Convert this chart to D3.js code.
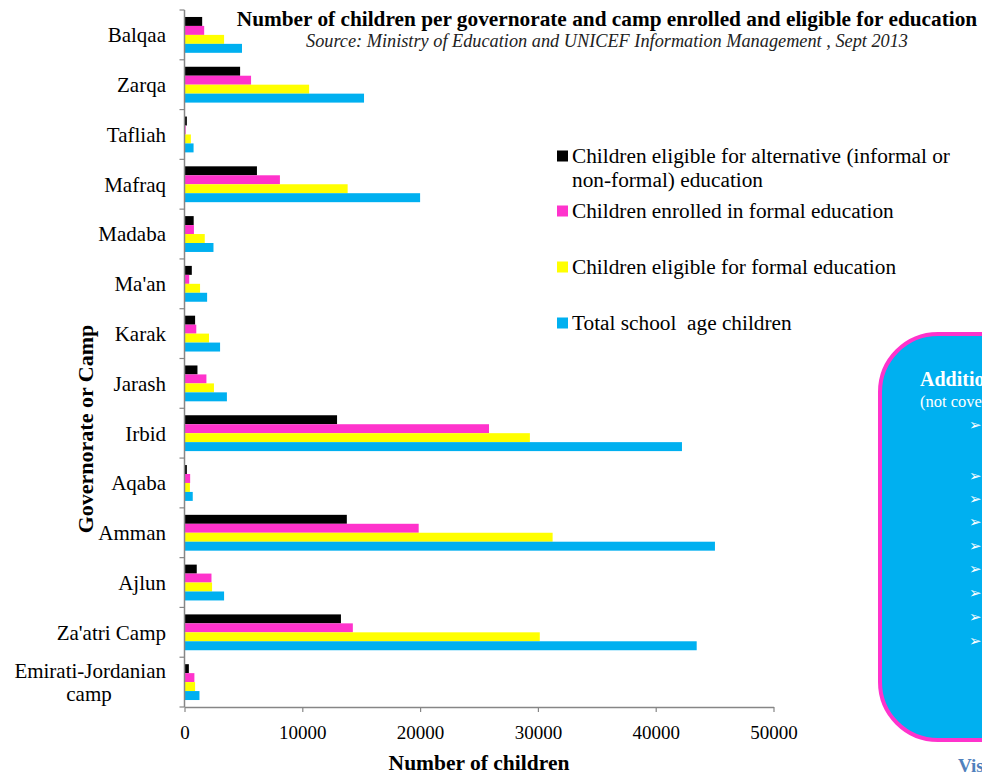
<!DOCTYPE html>
<html>
<head>
<meta charset="utf-8">
<script src="https://cdn.jsdelivr.net/npm/d3@7"></script>
<style>
  html, body { margin: 0; padding: 0; background: #fff; }
  svg { display: block; font-family: "Liberation Serif", "Times New Roman", serif; }
</style>
</head>
<body>
<svg id="chart" width="982" height="776"></svg>
<script>
// ---- data ----
const categories = ["Balqaa", "Zarqa", "Tafliah", "Mafraq", "Madaba", "Ma'an", "Karak", "Jarash",
  "Irbid", "Aqaba", "Amman", "Ajlun", "Za'atri Camp", "Emirati-Jordanian camp"];
const seriesNames = [
  "Children eligible for alternative (informal or non-formal) education",
  "Children enrolled in formal education",
  "Children eligible for formal education",
  "Total school  age children"
];
const alternativeEligible = [1500, 4720, 200, 6150, 780, 620, 900, 1100, 12950, 200, 13780, 1040, 13280, 370];
const formalEnrolled      = [1670, 5650, 100, 8100, 800, 400, 1000, 1860, 25850, 480, 19880, 2290, 14290, 840];
const formalEligible      = [3360, 10580, 540, 13850, 1720, 1320, 2080, 2500, 29320, 460, 31250, 2340, 30160, 900];
const totalSchoolAge      = [4880, 15240, 770, 20000, 2460, 1920, 3020, 3600, 42230, 700, 45030, 3360, 43480, 1270];
const xTicks = [0, 10000, 20000, 30000, 40000, 50000];
const colors = ["#000000", "#FF33CC", "#FFFF00", "#00B0F0"];

const seriesValues = [alternativeEligible, formalEnrolled, formalEligible, totalSchoolAge];

const svg = d3.select("#chart");
const axisColor = "#868686";

const x = d3.scaleLinear().domain([0, 50000]).range([184.5, 773.5]);
const y = d3.scaleBand().domain(categories).range([10, 707]).padding(0);
const bw = y.bandwidth();
const ySub = d3.scaleBand().domain(d3.range(4)).range([bw * 0.14, bw * 0.86]).padding(0);

// ---- bars ----
const groups = svg.append("g").selectAll("g")
  .data(categories)
  .join("g")
  .attr("transform", d => `translate(0,${y(d)})`);

groups.selectAll("rect")
  .data((d, i) => seriesValues.map((vals, s) => ({ s, v: vals[i] })))
  .join("rect")
  .attr("x", x(0))
  .attr("y", d => ySub(d.s))
  .attr("width", d => x(d.v) - x(0))
  .attr("height", ySub.bandwidth())
  .attr("fill", d => colors[d.s]);

// ---- x axis ----
const xAxis = svg.append("g")
  .attr("transform", `translate(0,707)`)
  .call(d3.axisBottom(x).tickValues(xTicks).tickFormat(d3.format("d")).tickSize(5).tickSizeOuter(0));
xAxis.select(".domain").attr("stroke", axisColor).attr("stroke-width", 1.5);
xAxis.selectAll(".tick line").attr("stroke", axisColor).attr("stroke-width", 1.2);
xAxis.selectAll(".tick text")
  .attr("fill", "#000")
  .attr("font-size", 19)
  .attr("font-family", "Liberation Serif")
  .attr("dy", "1.28em");

// ---- y axis ----
const yAxisG = svg.append("g");
yAxisG.append("line")
  .attr("x1", x(0)).attr("x2", x(0))
  .attr("y1", 10).attr("y2", 707)
  .attr("stroke", axisColor).attr("stroke-width", 1.5);
const boundaries = categories.map(c => y(c)).concat([y(categories[categories.length - 1]) + bw]);
yAxisG.selectAll("line.tk")
  .data(boundaries)
  .join("line")
  .attr("class", "tk")
  .attr("x1", x(0) - 5).attr("x2", x(0))
  .attr("y1", d => d).attr("y2", d => d)
  .attr("stroke", axisColor).attr("stroke-width", 1.2);

const yLabels = yAxisG.selectAll("text.cat")
  .data(categories)
  .join("text")
  .attr("class", "cat")
  .attr("x", 166)
  .attr("y", d => y(d) + bw / 2)
  .attr("text-anchor", "end")
  .attr("font-size", 21)
  .attr("fill", "#000");
yLabels.each(function (d) {
  const t = d3.select(this);
  if (d === "Emirati-Jordanian camp") {
    t.append("tspan").attr("x", 166).attr("dy", "-0.2em").text("Emirati-Jordanian");
    t.append("tspan").attr("x", 89).attr("text-anchor", "middle").attr("dy", "1.1em").text("camp");
  } else {
    t.attr("dy", "0.35em").text(d);
  }
});

// ---- axis titles ----
svg.append("text")
  .attr("transform", "translate(93,429) rotate(-90)")
  .attr("text-anchor", "middle")
  .attr("font-size", 22).attr("font-weight", "bold")
  .text("Governorate or Camp");
svg.append("text")
  .attr("x", 479).attr("y", 770)
  .attr("text-anchor", "middle")
  .attr("font-size", 21.5).attr("font-weight", "bold")
  .text("Number of children");

// ---- title ----
svg.append("text")
  .attr("x", 607).attr("y", 26)
  .attr("text-anchor", "middle")
  .attr("font-size", 21.3).attr("font-weight", "bold")
  .text("Number of children per governorate and camp enrolled and eligible for education");
svg.append("text")
  .attr("x", 607).attr("y", 47)
  .attr("text-anchor", "middle")
  .attr("font-size", 18.3).attr("font-style", "italic")
  .attr("fill", "#222")
  .text("Source: Ministry of Education and UNICEF Information Management , Sept 2013");

// ---- legend ----
const legendRows = [
  { s: 0, y: 156, lines: ["Children eligible for alternative (informal or", "non-formal) education"] },
  { s: 1, y: 211, lines: [seriesNames[1]] },
  { s: 2, y: 267, lines: [seriesNames[2]] },
  { s: 3, y: 323, lines: [seriesNames[3]] }
];
const lg = svg.append("g");
legendRows.forEach(r => {
  lg.append("rect")
    .attr("x", 557).attr("y", r.y - 5.5)
    .attr("width", 11).attr("height", 11)
    .attr("fill", colors[r.s]);
  const t = lg.append("text")
    .attr("x", 572).attr("y", r.y)
    .attr("font-size", 21.3).attr("fill", "#000")
    .attr("xml:space", "preserve")
    .style("white-space", "pre");
  r.lines.forEach((ln, i) => {
    t.append("tspan").attr("x", 572).attr("dy", i === 0 ? "0.35em" : "1.1em").text(ln);
  });
});

// ---- side box (partly off-canvas, as in the reference) ----
const box = svg.append("g");
box.append("rect")
  .attr("x", 880).attr("y", 334)
  .attr("width", 220).attr("height", 406)
  .attr("rx", 58).attr("ry", 58)
  .attr("fill", "#00B0F0")
  .attr("stroke", "#FF33CC").attr("stroke-width", 4);
box.append("text")
  .attr("x", 920).attr("y", 386)
  .attr("font-size", 20).attr("font-weight", "bold").attr("fill", "#fff")
  .text("Additional");
box.append("text")
  .attr("x", 920).attr("y", 407)
  .attr("font-size", 16.5).attr("fill", "#fff")
  .text("(not covered");
const arrowYs = [425, 476, 499, 522, 546, 569, 593, 617, 641];
box.selectAll("text.arr")
  .data(arrowYs)
  .join("text")
  .attr("class", "arr")
  .attr("x", 969).attr("y", d => d)
  .attr("dy", "0.35em")
  .attr("font-size", 15).attr("fill", "#fff")
  .attr("font-family", "DejaVu Sans")
  .text("\u27A2");
svg.append("text")
  .attr("x", 958).attr("y", 772)
  .attr("font-size", 19).attr("font-weight", "bold").attr("fill", "#4F81BD")
  .text("Visit");
</script>
</body>
</html>
